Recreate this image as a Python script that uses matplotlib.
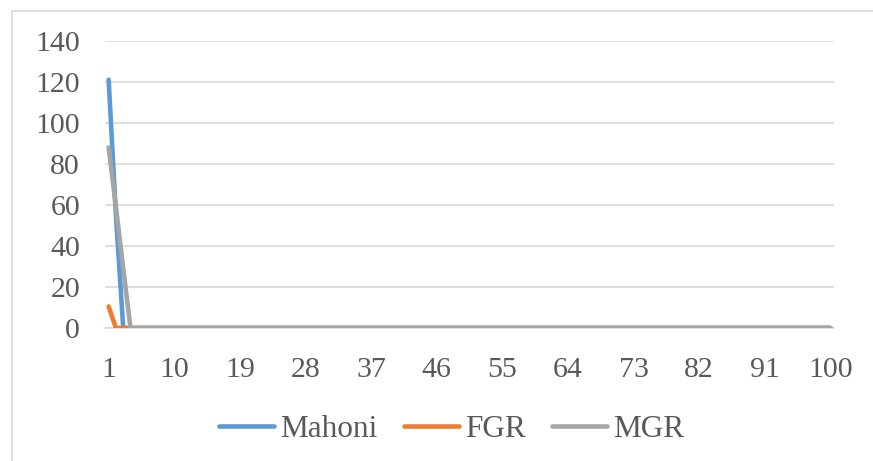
import matplotlib
matplotlib.use("Agg")
import matplotlib.pyplot as plt
from matplotlib.patches import Rectangle

# Series over 100 iterations
iterations = list(range(1, 101))
mahoni = [121, 55] + [0] * 98
fgr = [10.5] + [0] * 99
mgr = [88, 59, 29] + [0] * 97

series_names = ["Mahoni", "FGR", "MGR"]
series_colors = ["#5B9BD5", "#ED7D31", "#A5A5A5"]
x_tick_labels = [str(i) for i in range(1, 101, 9)]
y_ticks = [0, 20, 40, 60, 80, 100, 120, 140]

plt.rcParams["font.family"] = ["Liberation Serif", "DejaVu Serif"]

W, H = 873, 461
fig = plt.figure(figsize=(W / 100, H / 100), dpi=100)

# outer chart frame
fig.patches.append(Rectangle((12 / W, -0.05), 1.2, (H - 11) / H + 0.05,
                             transform=fig.transFigure, fill=False,
                             edgecolor="#D9D9D9", linewidth=1.2))

ax = fig.add_axes([105 / W, (H - 328) / H, (834 - 105) / W, (328 - 40.7) / H])

for vals, name, col in zip([mahoni, fgr, mgr], series_names, series_colors):
    ax.plot(iterations, vals, color=col, linewidth=3.3, label=name,
            solid_capstyle="round", solid_joinstyle="round", zorder=3)

ax.set_xlim(0.5, 100.5)
ax.set_ylim(0, 140)
ax.set_yticks(y_ticks)
ax.set_xticks(list(range(1, 101, 9)))
ax.set_xticklabels(x_tick_labels)

ax.grid(axis="y", color="#D9D9D9", linewidth=1.2, zorder=0)
ax.grid(axis="x", visible=False)
for s in ["top", "right", "left"]:
    ax.spines[s].set_visible(False)
ax.spines["bottom"].set_color("#D9D9D9")
ax.spines["bottom"].set_linewidth(1.2)
ax.tick_params(axis="both", length=0, labelsize=21.5, colors="#595959")
ax.tick_params(axis="y", pad=18)
ax.tick_params(axis="x", pad=21)

handles, labels = ax.get_legend_handles_labels()
leg = fig.legend(handles, labels, ncol=3, loc="center",
                 bbox_to_anchor=(452 / W, (H - 429) / H), frameon=False,
                 fontsize=22.5, handlelength=1.75, handletextpad=0.2,
                 columnspacing=0.85)
for t in leg.get_texts():
    t.set_color("#595959")

fig.savefig("out.png", dpi=100)
